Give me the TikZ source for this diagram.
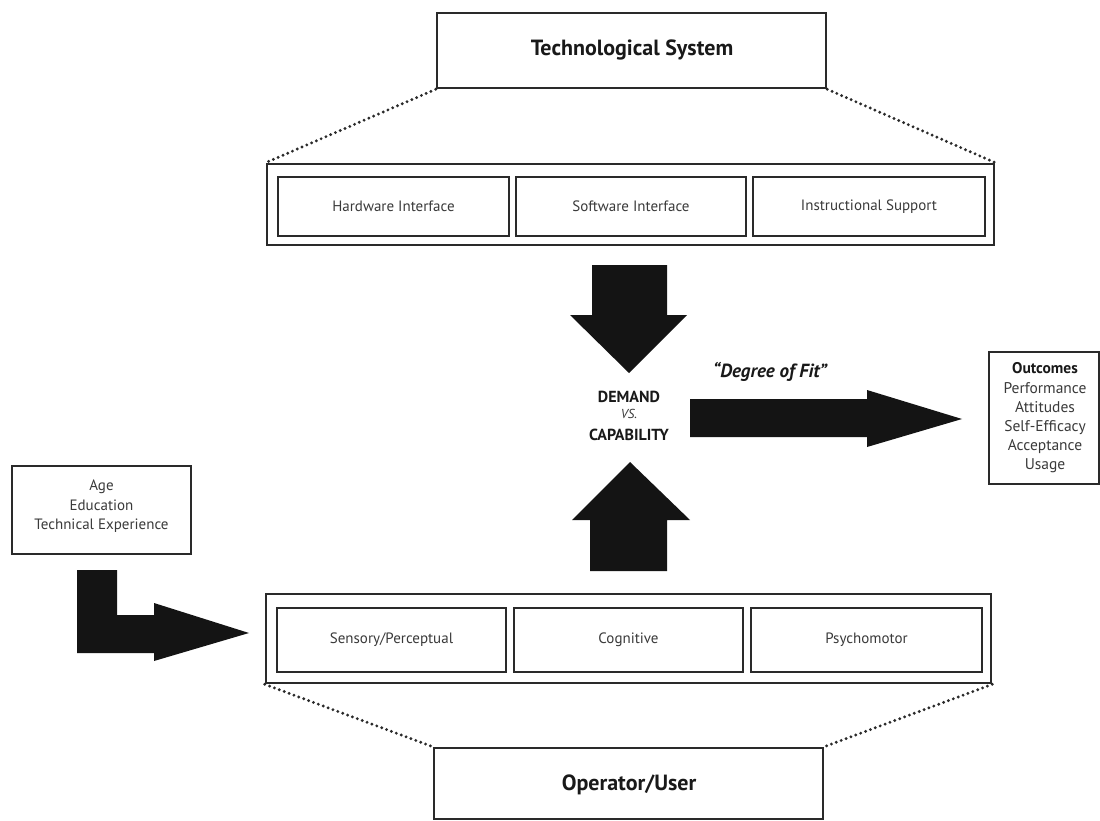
\documentclass[tikz,border=0pt]{standalone}
\usepackage{fontspec}
\setmainfont{PT Sans}
\begin{document}
\begin{tikzpicture}[x=1pt,y=-1pt,
  frame/.style={draw=linegray,line width=2.6pt,inner sep=0pt,fill=white},
  label/.style={text=textgray,font=\fontsize{15}{18}\selectfont},
  head/.style={text=black!90,font=\bfseries\fontsize{22}{26}\selectfont},
  dots/.style={draw=linegray,line width=3.2pt,line cap=round,dash pattern=on 0pt off 5.2pt},
  block/.style={fill=black!92,draw=none}]
\definecolor{linegray}{HTML}{2A2A2A}
\definecolor{textgray}{HTML}{3A3A3A}
\useasboundingbox[fill=white] (0,0) rectangle (1100,821);

% technological system and its three parts
\node[frame,minimum width=389pt,minimum height=75pt] (tech) at (631.5,50.5) {};
\node[head] (techtxt) at (632,50) {Technological System};
\node[frame,minimum width=727pt,minimum height=81pt] (top) at (630.5,204.5) {};
\node[frame,minimum width=231pt,minimum height=59pt] (hw) at (393.5,206.5) {};
\node[frame,minimum width=230pt,minimum height=59pt] (sw) at (631,206.5) {};
\node[frame,minimum width=232pt,minimum height=59pt] (is) at (869,206.5) {};
\node[label] at (hw) {Hardware Interface};
\node[label] at (sw) {Software Interface};
\node[label] at (is) {Instructional Support};
\draw[dots] (tech.south west) -- (top.north west);
\draw[dots] (tech.south east) -- (top.north east);

% operator and its three capabilities
\node[frame,minimum width=725pt,minimum height=89pt] (bot) at (628.5,638.5) {};
\node[frame,minimum width=229pt,minimum height=64pt] (sens) at (391.5,640) {};
\node[frame,minimum width=229pt,minimum height=64pt] (cog) at (628.5,640) {};
\node[frame,minimum width=231pt,minimum height=64pt] (psy) at (866.5,640) {};
\node[label] at (sens) {Sensory/Perceptual};
\node[label] at (cog) {Cognitive};
\node[label] at (psy) {Psychomotor};
\node[frame,minimum width=389pt,minimum height=71pt] (op) at (628.5,783.5) {};
\node[head] (optxt) at (629,785) {Operator/User};
\draw[dots] (bot.south west) -- (op.north west);
\draw[dots] (bot.south east) -- (op.north east);

% demand versus capability
\node[text=black!90,font=\bfseries\fontsize{16}{18}\selectfont] (dem) at (629,397) {DEMAND};
\node[text=textgray,font=\itshape\fontsize{13}{15}\selectfont] (vs) at (629,414) {VS.};
\node[text=black!90,font=\bfseries\fontsize{16}{18}\selectfont] (cap) at (629,435) {CAPABILITY};
\node[text=black!90,font=\bfseries\itshape\fontsize{19}{22}\selectfont] (fit) at (770,372) {“Degree of Fit”};

% block arrows
\path[block] (592,265) -- (667,265) -- (667,315) -- (687,315) -- (629,373)
  -- (570,315) -- (592,315) -- cycle;
\path[block] (590,571) -- (667,571) -- (667,520) -- (690,520) -- (630,462)
  -- (572,520) -- (590,520) -- cycle;
\path[block] (690,399) -- (867,399) -- (867,390) -- (962,419) -- (867,447)
  -- (867,437) -- (690,437) -- cycle;
\path[block] (77,570) -- (117,570) -- (117,615) -- (154,615) -- (154,603)
  -- (249,633) -- (154,661) -- (154,653) -- (77,653) -- cycle;

% outcomes
\node[frame,minimum width=110pt,minimum height=132pt] (out) at (1044,418) {};
\node[text=textgray,align=center,font=\fontsize{15.5}{19.2}\selectfont] (outtxt) at (1045,418)
  {{\bfseries\color{black!90}Outcomes}\\Performance\\Attitudes\\Self-Efficacy\\Acceptance\\Usage};

% user characteristics
\node[frame,minimum width=179pt,minimum height=88pt] (age) at (101.5,510) {};
\node[text=textgray,align=center,font=\fontsize{15}{19.5}\selectfont] (agetxt) at (101.5,506.5)
  {Age\\Education\\Technical Experience};
\end{tikzpicture}
\end{document}
